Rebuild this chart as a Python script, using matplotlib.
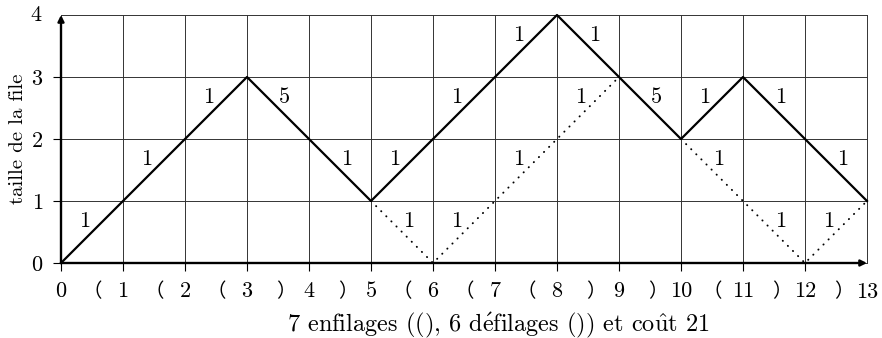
import matplotlib.pyplot as plt

plt.rcParams["font.family"] = ["cmr10", "DejaVu Serif"]
plt.rcParams["mathtext.fontset"] = "cm"
plt.rcParams["axes.formatter.use_mathtext"] = True

# path of the queue size
steps = list(range(14))
sizes = [0, 1, 2, 3, 2, 1, 2, 3, 4, 3, 2, 3, 2, 1]
costs = [1, 1, 1, 5, 1, 1, 1, 1, 1, 5, 1, 1, 1]
ops = ["（", "（", "（", "）", "）", "（", "（", "（", "）", "）", "（", "）", "）"]

# dotted alternative paths
dot1_x = [5, 6, 7, 8, 9]
dot1_y = [1, 0, 1, 2, 3]
dot2_x = [10, 11, 12, 13]
dot2_y = [2, 1, 0, 1]
dot_costs = [1, 1, 1, 1]

xlabel = (r"7 enfilages ((), 6 d$\acute{\mathrm{e}}$filages ()) "
          r"et co$\hat{\mathrm{u}}$t 21")
ylabel = "taille de la file"

fs = 16

fig = plt.figure(figsize=(8.82, 3.38), dpi=100)
ax = fig.add_axes([61 / 882, 75 / 338, 806 / 882, 248 / 338])
ax.set_xlim(0, 13)
ax.set_ylim(0, 4)
for s in ax.spines.values():
    s.set_visible(False)

# grid
for x in steps:
    ax.plot([x, x], [0, 4], color="#333333", lw=0.7, zorder=1, clip_on=False)
for y in range(5):
    ax.plot([0, 13], [y, y], color="#333333", lw=0.7, zorder=1, clip_on=False)

# axes with arrows
arrow = dict(arrowstyle="-|>", lw=1.7, color="black", mutation_scale=9,
             shrinkA=0, shrinkB=0)
ax.annotate("", xy=(13, 0), xytext=(0, 0), arrowprops=arrow, zorder=4,
            annotation_clip=False)
ax.annotate("", xy=(0, 4), xytext=(0, 0), arrowprops=arrow, zorder=4,
            annotation_clip=False)

ax.set_xticks(steps[:-1])
ax.set_xticklabels([str(s) for s in steps[:-1]])
ax.set_yticks(range(4))
ax.tick_params(axis="x", length=6, width=0.8, pad=7, labelsize=fs)
ax.tick_params(axis="y", length=6, width=0.8, pad=7, labelsize=fs)
ax.text(13, -0.47, "13", ha="center", va="center", fontsize=fs)
ax.text(-0.4, 4, "4", ha="center", va="center", fontsize=fs)

# operation symbols between ticks
for i, op in enumerate(ops):
    dx = 0.0 if op == "（" else 0.12
    ax.text(i + 0.5 + dx, -0.47, op, ha="center", va="center", fontsize=14,
            family=["Noto Sans CJK JP"])

# solid path
ax.plot(steps, sizes, color="black", lw=1.6, zorder=3, clip_on=False)
ax.plot(dot1_x, dot1_y, color="black", lw=1.4, ls=(0, (0.1, 3.6)),
        dash_capstyle="round", zorder=3, clip_on=False)
ax.plot(dot2_x, dot2_y, color="black", lw=1.4, ls=(0, (0.1, 3.6)),
        dash_capstyle="round", zorder=3, clip_on=False)


def cost_label(xs, ys, c):
    for i in range(len(c)):
        mx = (xs[i] + xs[i + 1]) / 2
        my = (ys[i] + ys[i + 1]) / 2
        dx = -0.12 if ys[i + 1] > ys[i] else 0.11
        ax.text(mx + dx, my + 0.18, str(c[i]), ha="center", va="center",
                fontsize=fs, zorder=5)


cost_label(steps, sizes, costs)
cost_label(dot1_x, dot1_y, dot_costs)
cost_label(dot2_x, dot2_y, dot_costs[:3])

fig.text(498 / 882, 1 - 325 / 338, xlabel, ha="center", va="center",
         fontsize=17.5)
fig.text(18 / 882, 1 - 139 / 338, ylabel, ha="center", va="center",
         rotation=90, fontsize=15)

fig.savefig("out.png", dpi=100)
